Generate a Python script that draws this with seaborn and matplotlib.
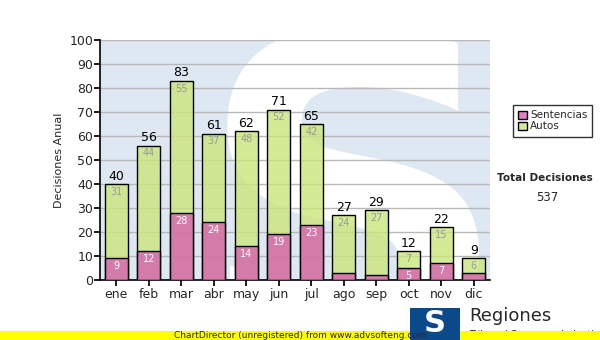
import matplotlib
matplotlib.use("Agg")
import matplotlib.pyplot as plt
import matplotlib.colors as mcolors
import seaborn as sns
import pandas as pd
from matplotlib.patches import Rectangle

months = ["ene", "feb", "mar", "abr", "may", "jun", "jul", "ago", "sep", "oct", "nov", "dic"]
sentencias = [9, 12, 28, 24, 14, 19, 23, 3, 2, 5, 7, 3]
autos = [31, 44, 55, 37, 48, 52, 42, 24, 27, 7, 15, 6]
totals = [s + a for s, a in zip(sentencias, autos)]
yticks = list(range(0, 101, 10))

sns.set_theme(style="white")
plt.rcParams['font.family'] = ['DejaVu Sans']

fig = plt.figure(figsize=(6, 3.4), dpi=100)
ax = fig.add_axes([100/600, 60/340, 390/600, 240/340])
ax.set_facecolor("#dee8f2")

df = pd.DataFrame({"mes": months, "Sentencias": sentencias, "Autos": autos, "Total": totals})
pink = "#d760b0"
green = "#cae67b"
sns.barplot(data=df, x="mes", y="Total", color=green, edgecolor="black", linewidth=1.0,
            width=0.72, ax=ax, label="Autos", zorder=3, saturation=1)
sns.barplot(data=df, x="mes", y="Sentencias", color=pink, edgecolor="black", linewidth=1.0,
            width=0.72, ax=ax, label="Sentencias", zorder=4, saturation=1)

handles, labels = ax.get_legend_handles_labels()
if ax.get_legend() is not None:
    ax.get_legend().remove()

for p in ax.patches:
    r, g, b, _ = mcolors.to_rgba(p.get_facecolor())
    p.set_alpha(None)
    p.set_facecolor((r, g, b, 0.8))
    p.set_edgecolor((0, 0, 0, 1))

# watermark inside plot area
ax.text(7.3, -30, "S", fontsize=315, fontweight="bold", color="white",
        ha="center", va="baseline", zorder=0.5, clip_on=True)

for i, (s, a, t) in enumerate(zip(sentencias, autos, totals)):
    ax.text(i, t + 0.6, str(t), ha="center", va="bottom", fontsize=9, color="black", zorder=6)
    ax.text(i, t - 1.2, str(a), ha="center", va="top", fontsize=7, color="#999999", zorder=6)
    if s >= 5:
        ax.text(i, s - 1.2, str(s), ha="center", va="top", fontsize=7, color="white", zorder=6)

ax.set_ylim(0, 100)
ax.set_xlim(-0.5, 11.5)
ax.set_yticks(yticks)
ax.set_yticklabels([str(v) for v in yticks], fontsize=9)
ax.tick_params(axis="x", labelsize=9, length=4, color="black", bottom=True, direction="out", pad=2)
ax.tick_params(axis="y", length=4, color="black", left=True, direction="out", pad=1)
ax.yaxis.grid(True, color="#b8b8b8", linewidth=1.0, zorder=1)
ax.set_axisbelow(True)
ax.set_xlabel("")
ax.set_ylabel("Decisiones Anual", fontsize=8)
for sp in ["top", "right"]:
    ax.spines[sp].set_visible(False)
for sp in ["left", "bottom"]:
    ax.spines[sp].set_color("black")
    ax.spines[sp].set_linewidth(1.2)

# legend
order = [labels.index("Sentencias"), labels.index("Autos")]
leg = fig.legend([handles[k] for k in order], [labels[k] for k in order],
                 loc="upper left", bbox_to_anchor=(508/600, 1 - 100/340),
                 fontsize=7.5, frameon=True, fancybox=False, edgecolor="black",
                 handlelength=0.8, handleheight=0.8, handletextpad=0.3,
                 borderpad=0.5, labelspacing=0.1)
leg.get_frame().set_linewidth(1.0)

fig.text(545/600, 1 - 178/340, "Total Decisiones", fontsize=7.5, fontweight="bold",
         ha="center", va="center")
fig.text(547/600, 1 - 197/340, "537", fontsize=8.5, ha="center", va="center")

# footer yellow band
fig.patches.append(Rectangle((0, 0), 1, 9/340, transform=fig.transFigure,
                             facecolor="#ffff00", edgecolor="none", zorder=1))
fig.text(300/600, 4.5/340, "ChartDirector (unregistered) from www.advsofteng.com",
         fontsize=6.5, ha="center", va="center", zorder=3)

# logo
fig.patches.append(Rectangle((410/600, 0), 50/600, 32/340, transform=fig.transFigure,
                             facecolor="#0a4a8a", edgecolor="none", zorder=2))
fig.text(435/600, 17/340, "S", fontsize=22, fontweight="bold", color="white",
         ha="center", va="center", zorder=3)
fig.text(469/600, 24/340, "Regiones", fontsize=13, ha="left", va="center", zorder=3)
fig.text(469/600, 5/340, "Tribunal Supremo de Justicia", fontsize=7, ha="left",
         va="center", zorder=0.5)

fig.savefig("out.png", dpi=100)
